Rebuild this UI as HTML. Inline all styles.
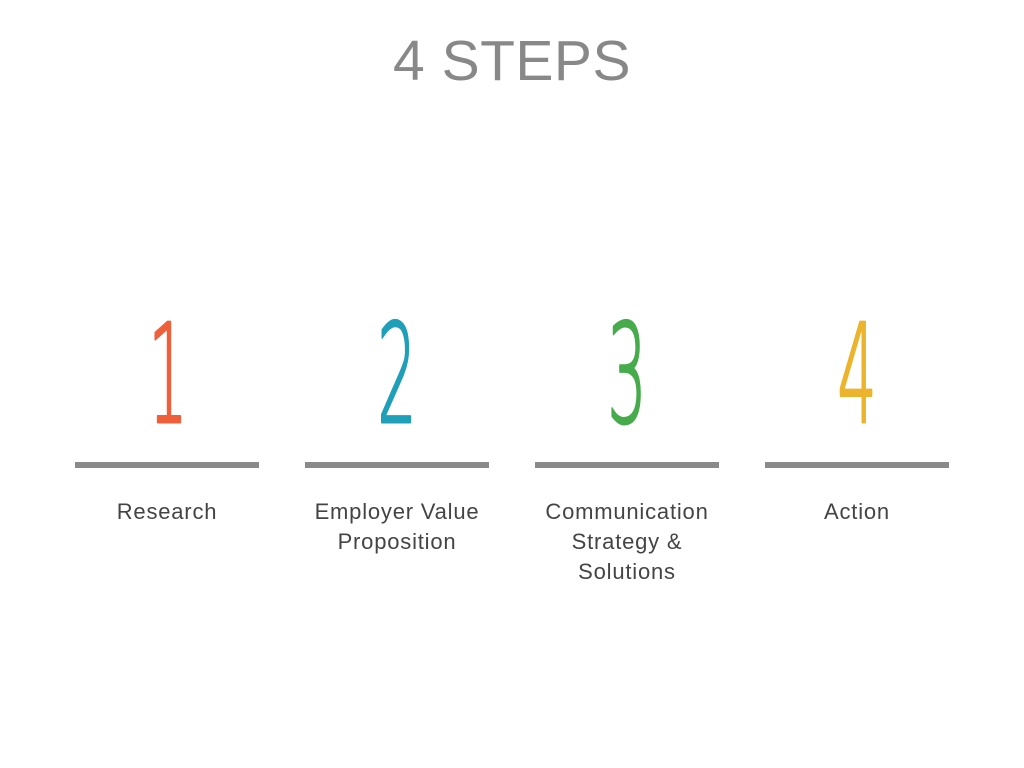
<!DOCTYPE html>
<html><head><meta charset="utf-8"><style>
html,body{margin:0;padding:0;background:#fff;}
body{width:1024px;height:768px;position:relative;overflow:hidden;font-family:"Liberation Sans",sans-serif;}
.title{position:absolute;top:28px;left:0;width:1024px;text-align:center;font-size:57px;color:#888;letter-spacing:0.5px;line-height:66px;}
.bar{position:absolute;top:462px;width:184px;height:6px;background:#8a8a8a;}
.lbl{position:absolute;top:497px;width:230px;text-align:center;font-size:22px;line-height:30px;color:#444;letter-spacing:0.8px;}
svg{position:absolute;left:0;top:0;}
</style></head><body>
<div class="title">4 STEPS</div>
<svg width="1024" height="768">
<g font-family="'DejaVu Sans', sans-serif" font-weight="200" font-size="137" text-anchor="middle" stroke-width="3" stroke-linejoin="round">
<text transform="translate(168,422) scale(0.45,1)" fill="#ef5f3a" stroke="#ef5f3a">1</text>
<text transform="translate(397,422) scale(0.45,1)" fill="#1f9fb8" stroke="#1f9fb8">2</text>
<text transform="translate(627,422) scale(0.45,1)" fill="#46ab4a" stroke="#46ab4a">3</text>
<text transform="translate(857,422) scale(0.45,1)" fill="#ebb42c" stroke="#ebb42c">4</text>
</g>
</svg>
<div class="bar" style="left:75px"></div>
<div class="bar" style="left:305px"></div>
<div class="bar" style="left:535px"></div>
<div class="bar" style="left:765px"></div>
<div class="lbl" style="left:52px">Research</div>
<div class="lbl" style="left:282px">Employer Value<br>Proposition</div>
<div class="lbl" style="left:512px">Communication<br>Strategy &amp;<br>Solutions</div>
<div class="lbl" style="left:742px">Action</div>
</body></html>
